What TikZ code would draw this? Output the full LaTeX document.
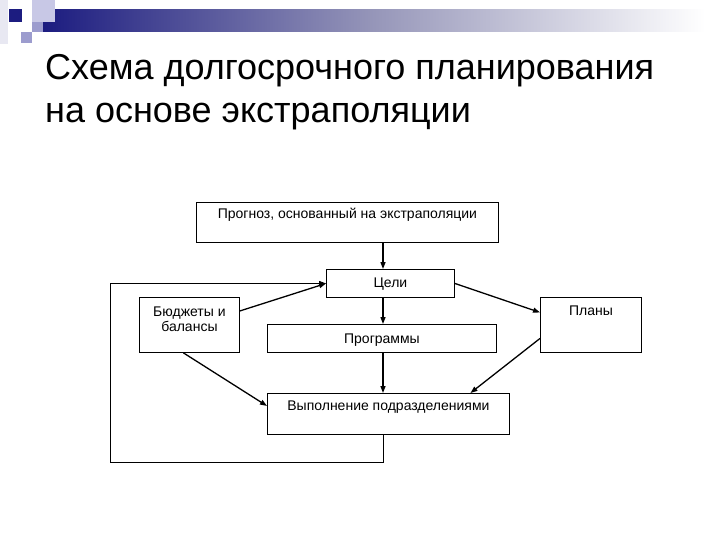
\documentclass[tikz,border=0pt]{standalone}
\usepackage{fontspec}
\setmainfont{Liberation Sans}
\usetikzlibrary{arrows.meta,positioning,calc}

\definecolor{navy}{RGB}{28,28,128}
\definecolor{greylav}{RGB}{150,150,185}
\definecolor{lightlav}{RGB}{200,200,230}
\definecolor{midlav}{RGB}{156,156,206}
\definecolor{palelav}{RGB}{232,232,242}

\tikzset{
  block/.style={draw, line width=0.9pt, inner sep=0pt, anchor=north west},
  blocktext/.style={anchor=base, inner sep=0pt, align=center,
    font=\fontsize{14}{15.5}\selectfont},
  titletext/.style={anchor=base west, inner sep=0pt,
    font=\fontsize{36}{42}\selectfont},
  arr/.style={-{Triangle[length=7pt,width=5pt]}, line width=1.3pt},
  feedback/.style={-{Triangle[length=7pt,width=5pt]}, line width=0.9pt},
}

\begin{document}
\begin{tikzpicture}[x=1pt,y=-1pt]
  \useasboundingbox (0,0) rectangle (720,540);
  % slide decoration
  \fill[palelav] (0,0) rectangle (8,44);
  \shade[left color=navy, right color=white, middle color=greylav] (43,10) rectangle (705,32);
  \fill[lightlav] (32,0) rectangle (55,22);
  \fill[midlav] (32,22) rectangle (43,32);
  \fill[navy] (9,9) rectangle (22,22);
  \fill[midlav] (21,32) rectangle (32,43);

  % title
  \node[titletext] (title1) at (45,80) {Схема долгосрочного планирования};
  \node[titletext] (title2) at (45,123) {на основе экстраполяции};

  % blocks
  \node[block, minimum width=302pt, minimum height=40pt] (prognoz) at (196,202) {};
  \node[block, minimum width=128pt, minimum height=28pt] (celi) at (326,269) {};
  \node[block, minimum width=100pt, minimum height=55pt] (budg) at (139,297) {};
  \node[block, minimum width=101pt, minimum height=55pt] (plany) at (540,297) {};
  \node[block, minimum width=229pt, minimum height=28pt] (progr) at (267,324) {};
  \node[block, minimum width=242pt, minimum height=41pt] (vypoln) at (267,393) {};

  \node[blocktext] (prognoz-t) at ([yshift=-16.5pt]prognoz.north) {Прогноз, основанный на экстраполяции};
  \node[blocktext] (celi-t) at ([yshift=-18.5pt]celi.north) {Цели};
  \node[blocktext] (budg-t) at ([yshift=-34.5pt]budg.north) {Бюджеты и\\балансы};
  \node[blocktext] (plany-t) at ([yshift=-18.5pt]plany.north) {Планы};
  \node[blocktext] (progr-t) at ([yshift=-19pt]progr.north) {Программы};
  \node[blocktext] (vypoln-t) at ([yshift=-17.5pt]vypoln.north) {Выполнение подразделениями};

  \coordinate (axis) at (383,0);
  \coordinate (loopcorner) at (110,462);

  % connectors
  \draw[arr] (prognoz.south -| axis) -- (celi.north -| axis);
  \draw[arr] (celi.south -| axis) -- (progr.north -| axis);
  \draw[arr] (progr.south -| axis) -- (vypoln.north -| axis);
  \draw[arr] ([yshift=14pt]budg.east) -- (celi.west);
  \draw[arr] ([xshift=-6pt]budg.south) -- ([yshift=8pt]vypoln.west);
  \draw[arr] (celi.east) -- ([yshift=12.5pt]plany.west);
  \draw[arr] ([yshift=-13.5pt]plany.west) -- ([xshift=82pt]vypoln.north);
  \draw[feedback] (vypoln.south -| axis) |- (loopcorner) |- (celi.west);
\end{tikzpicture}
\end{document}
